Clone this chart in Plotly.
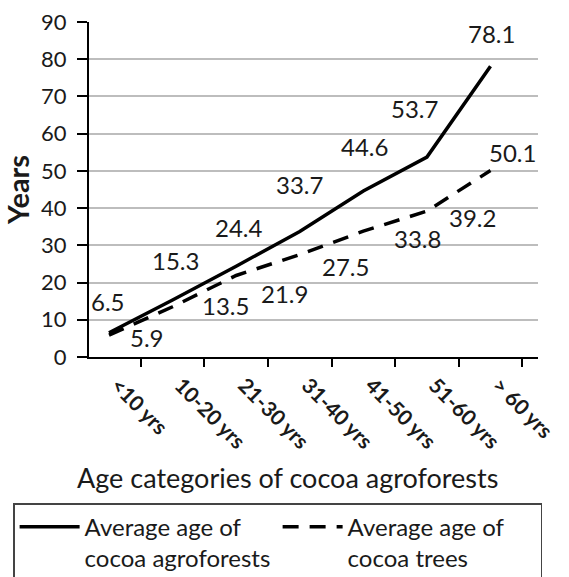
import plotly.graph_objects as go

# Age categories of cocoa agroforests
categories = ["<10 yrs", "10-20 yrs", "21-30 yrs", "31-40 yrs", "41-50 yrs", "51-60 yrs", "> 60 yrs"]
# Average age of cocoa agroforests (years)
agroforest_age = [6.5, 15.3, 24.4, 33.7, 44.6, 53.7, 78.1]
# Average age of cocoa trees (years)
tree_age = [5.9, 13.5, 21.9, 27.5, 33.8, 39.2, 50.1]

FONT = "Lato"
TEXT = "#1a1a1a"

# Pixel offsets for the value labels of each series
agro_label_dx = [-1, 3, 3, 0, 1, -12, 1]
agro_label_dy = [31, 40, 39, 47, 44, 49, 33]
tree_label_dx = [38, 53, 48, 46, 54, 46, 22]
tree_label_dy = [-2, 1, -18, -12, -7, -6, 18]

fig = go.Figure()
fig.add_trace(go.Scatter(
    x=categories, y=agroforest_age, mode="lines",
    name="Average age of<br>cocoa agroforests",
    line=dict(color="black", width=3.5),
))
fig.add_trace(go.Scatter(
    x=categories, y=tree_age, mode="lines",
    name="Average age of<br>cocoa trees",
    line=dict(color="black", width=3.5, dash="16px,11px"),
))

annotations = []
for c, v, dx, dy in zip(categories, agroforest_age, agro_label_dx, agro_label_dy):
    annotations.append(dict(x=c, y=v, text=f"{v}", showarrow=False,
                            xshift=dx, yshift=dy,
                            font=dict(family=FONT, size=24, color=TEXT)))
for c, v, dx, dy in zip(categories, tree_age, tree_label_dx, tree_label_dy):
    annotations.append(dict(x=c, y=v, text=f"{v}", showarrow=False,
                            xshift=dx, yshift=dy,
                            font=dict(family=FONT, size=24, color=TEXT)))

# x-axis title, placed in paper coordinates
annotations.append(dict(
    text="Age categories of cocoa agroforests", xref="paper", yref="paper",
    x=0.443, y=-0.361, xanchor="center", yanchor="middle", showarrow=False,
    font=dict(family=FONT, size=27, color=TEXT),
))

fig.update_layout(
    width=569, height=577,
    margin=dict(l=89, r=31, t=22, b=220, autoexpand=False),
    paper_bgcolor="white", plot_bgcolor="white",
    font=dict(family=FONT, color=TEXT),
    annotations=annotations,
    showlegend=True,
    legend=dict(
        orientation="h", x=-0.169, y=-0.436, xanchor="left", yanchor="top",
        bordercolor="#444", borderwidth=1.5, bgcolor="white",
        font=dict(family=FONT, size=24, color=TEXT),
        valign="top", entrywidth=188, itemwidth=60,
    ),
    xaxis=dict(
        type="category", tickson="boundaries", ticks="outside", ticklen=8,
        tickwidth=1.5, tickcolor="black", automargin=False,
        showline=True, linecolor="black", linewidth=2, showgrid=False,
        tickangle=45, tickfont=dict(family=FONT, size=21, color=TEXT, weight="bold"),
        ticklabelshift=8, ticklabelstandoff=6,
    ),
    yaxis=dict(
        range=[0, 90], dtick=10, ticks="outside", ticklen=10,
        tickwidth=1.5, tickcolor="black", automargin=False,
        showline=True, linecolor="black", linewidth=2,
        showgrid=True, gridcolor="#bdbdbd", gridwidth=1.5,
        zeroline=False,
        tickfont=dict(family=FONT, size=22, color=TEXT),
        ticklabelstandoff=6,
        title=dict(text="Years", font=dict(family=FONT, size=29, color=TEXT, weight="bold"),
                   standoff=10),
    ),
)

fig.write_html("out.html")
